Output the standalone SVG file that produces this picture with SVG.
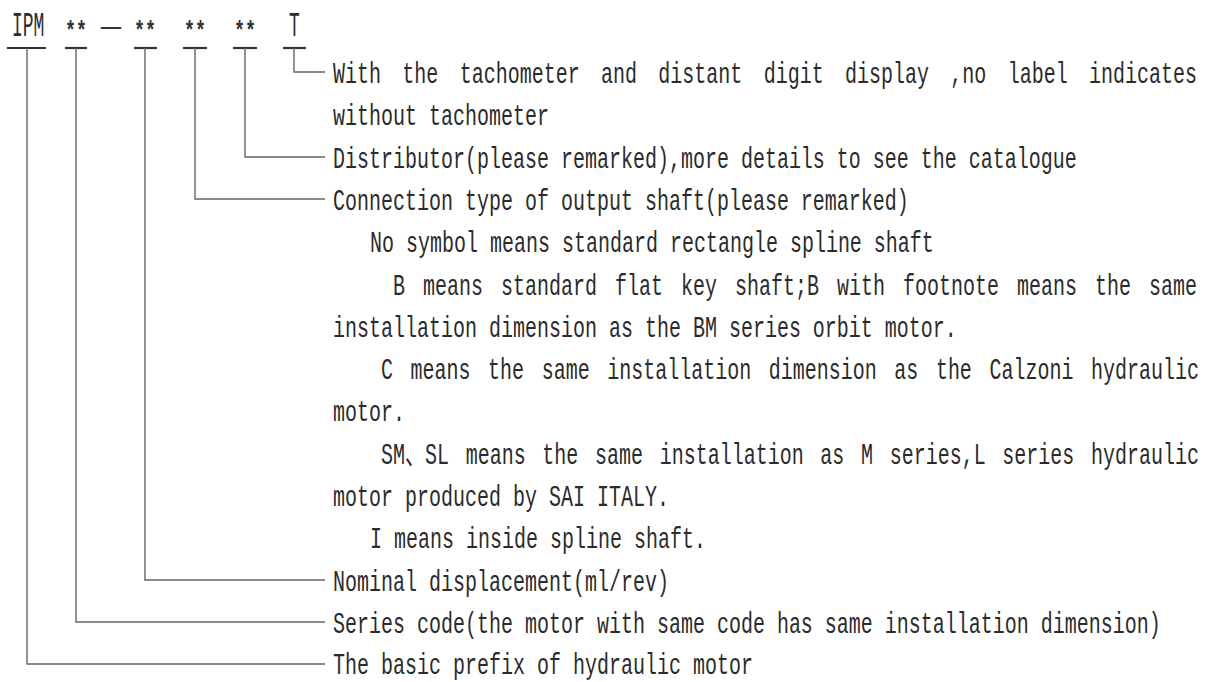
<svg xmlns="http://www.w3.org/2000/svg" width="1208" height="682" viewBox="0 0 1208 682">
<style>
  .t { font-family: "Liberation Mono", "Noto Sans CJK SC", monospace; font-size: 20px; fill: #2b2b2b; }
  .h { font-family: "Liberation Mono", monospace; font-size: 18px; fill: #2b2b2b; }
  .ast { font-family: "Liberation Mono", monospace; font-size: 26px; font-weight: bold; fill: #333; }
  .dash { font-family: "Liberation Mono", monospace; font-size: 20px; font-weight: bold; fill: #333; }
  .ul { stroke: #333; stroke-width: 2.2; fill: none; }
  .c { stroke: #666; stroke-width: 1.4; fill: none; }
</style>
<rect width="1208" height="682" fill="#ffffff"/>

<g id="code">
  <text class="h" x="12" y="0" transform="matrix(1 0 0 1.9 0 36)">IPM</text>
  <text class="ast" x="65" y="39" textLength="22" lengthAdjust="spacingAndGlyphs">**</text>
  <text class="dash" x="101" y="33" textLength="20" lengthAdjust="spacingAndGlyphs">—</text>
  <text class="ast" x="134" y="39" textLength="22" lengthAdjust="spacingAndGlyphs">**</text>
  <text class="ast" x="184" y="39" textLength="22" lengthAdjust="spacingAndGlyphs">**</text>
  <text class="ast" x="234" y="39" textLength="22" lengthAdjust="spacingAndGlyphs">**</text>
  <text class="h" x="289" y="0" transform="matrix(1 0 0 1.9 0 36)">T</text>
  <line class="ul" x1="7" y1="48" x2="46" y2="48"/>
  <line class="ul" x1="65" y1="48" x2="87" y2="48"/>
  <line class="ul" x1="134" y1="48" x2="157" y2="48"/>
  <line class="ul" x1="183" y1="48" x2="207" y2="48"/>
  <line class="ul" x1="233" y1="48" x2="257" y2="48"/>
  <line class="ul" x1="283" y1="48" x2="306" y2="48"/>
</g>

<g id="connectors">
  <polyline class="c" points="27,48 27,664 325,664"/>
  <polyline class="c" points="76,48 76,622 325,622"/>
  <polyline class="c" points="145,48 145,580 325,580"/>
  <polyline class="c" points="195,48 195,199 325,199"/>
  <polyline class="c" points="245,48 245,157 325,157"/>
  <polyline class="c" points="294,48 294,72 325,72"/>
</g>

<g id="node-tachometer">
  <text class="t" y="0" transform="matrix(1 0 0 1.5 0 83)"><tspan x="333">With</tspan><tspan x="402.33">the</tspan><tspan x="459.67">tachometer</tspan><tspan x="601">and</tspan><tspan x="658.33">distant</tspan><tspan x="763.67">digit</tspan><tspan x="845">display</tspan><tspan x="950.33">,no</tspan><tspan x="1007.67">label</tspan><tspan x="1089">indicates</tspan></text>
  <text class="t" x="333" y="0" transform="matrix(1 0 0 1.5 0 125.3)">without tachometer</text>
</g>

<g id="node-distributor">
  <text class="t" x="333" y="0" transform="matrix(1 0 0 1.5 0 167.6)">Distributor(please remarked),more details to see the catalogue</text>
</g>

<g id="node-connection">
  <text class="t" x="333" y="0" transform="matrix(1 0 0 1.5 0 209.9)">Connection type of output shaft(please remarked)</text>
  <text class="t" x="370" y="0" transform="matrix(1 0 0 1.5 0 252.2)">No symbol means standard rectangle spline shaft</text>
  <text class="t" y="0" transform="matrix(1 0 0 1.5 0 294.5)"><tspan x="393">B</tspan><tspan x="423">means</tspan><tspan x="501">standard</tspan><tspan x="615">flat</tspan><tspan x="681">key</tspan><tspan x="735">shaft;B</tspan><tspan x="837">with</tspan><tspan x="903">footnote</tspan><tspan x="1017">means</tspan><tspan x="1095">the</tspan><tspan x="1149">same</tspan></text>
  <text class="t" x="333" y="0" transform="matrix(1 0 0 1.5 0 336.8)">installation dimension as the BM series orbit motor.</text>
  <text class="t" y="0" transform="matrix(1 0 0 1.5 0 379.1)"><tspan x="381">C</tspan><tspan x="410.56">means</tspan><tspan x="488.11">the</tspan><tspan x="541.67">same</tspan><tspan x="607.22">installation</tspan><tspan x="768.78">dimension</tspan><tspan x="894.33">as</tspan><tspan x="935.89">the</tspan><tspan x="989.44">Calzoni</tspan><tspan x="1091">hydraulic</tspan></text>
  <text class="t" x="333" y="0" transform="matrix(1 0 0 1.5 0 421.4)">motor.</text>
  <text class="t" y="0" transform="matrix(1 0 0 1.5 0 463.7)"><tspan x="381">SM、SL</tspan><tspan x="465.67">means</tspan><tspan x="542.33">the</tspan><tspan x="595">same</tspan><tspan x="659.67">installation</tspan><tspan x="820.33">as</tspan><tspan x="861">M</tspan><tspan x="889.67">series,L</tspan><tspan x="1002.33">series</tspan><tspan x="1091">hydraulic</tspan></text>
  <text class="t" x="333" y="0" transform="matrix(1 0 0 1.5 0 506)">motor produced by SAI ITALY.</text>
  <text class="t" x="370" y="0" transform="matrix(1 0 0 1.5 0 548.3)">I means inside spline shaft.</text>
</g>

<g id="node-displacement">
  <text class="t" x="333" y="0" transform="matrix(1 0 0 1.5 0 590.6)">Nominal displacement(ml/rev)</text>
</g>

<g id="node-series">
  <text class="t" x="333" y="0" transform="matrix(1 0 0 1.5 0 632.9)">Series code(the motor with same code has same installation dimension)</text>
</g>

<g id="node-prefix">
  <text class="t" x="333" y="0" transform="matrix(1 0 0 1.5 0 673.5)">The basic prefix of hydraulic motor</text>
</g>
</svg>
